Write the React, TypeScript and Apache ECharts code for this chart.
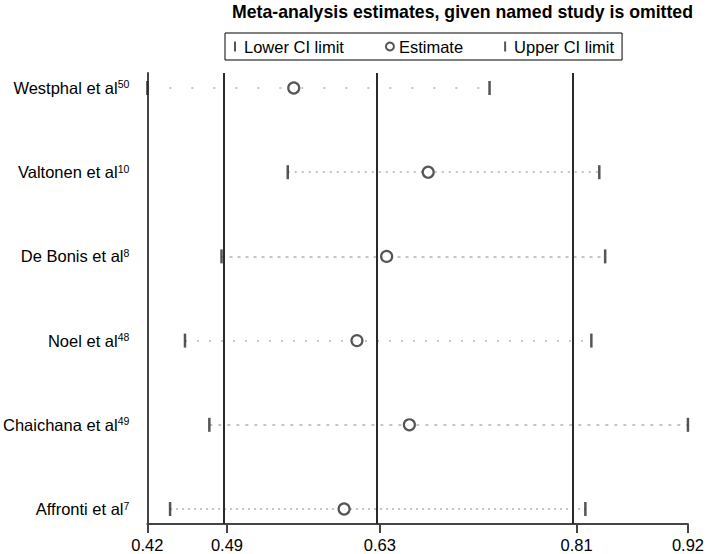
import React, { useEffect, useRef } from "react";
import * as echarts from "echarts";

// ---- data ----
const studies = ["Westphal et al", "Valtonen et al", "De Bonis et al", "Noel et al", "Chaichana et al", "Affronti et al"];
const studyRefs = ["50", "10", "8", "48", "49", "7"];
const lowerCI = [0.4193, 0.5484, 0.4875, 0.4539, 0.4763, 0.4402];
const estimate = [0.5539, 0.6775, 0.6393, 0.612, 0.6602, 0.6002];
const upperCI = [0.7339, 0.8348, 0.8402, 0.8275, 0.9163, 0.822];
// overall (all studies) lower CI, estimate, upper CI
const overall = [0.4925, 0.633, 0.8139];

// ---- styles (not data) ----
const rowDash = [[2, 20], [2, 5], [3, 5], [2, 10], [3, 6], [2, 4]];
const FONT = "'Liberation Sans', Arial, Helvetica, sans-serif";
const DARK = "#2a2a2a";

export default function App() {
  const ref = useRef<HTMLDivElement>(null);
  useEffect(() => {
    if (!ref.current) return;
    const chart = echarts.init(ref.current, null, { renderer: "svg" });
    const xMin = Math.min(...lowerCI);
    const xMax = Math.max(...upperCI);
    const xTicks = [xMin, ...overall, xMax];
    const rows = studies.map((_, i) => i);
    const tickIcon = "path://M0,0h2v10h-2z";

    chart.setOption({
      animation: false,
      textStyle: { fontFamily: FONT },
      title: {
        text: "Meta-analysis estimates, given named study is omitted",
        left: 227,
        top: -2,
        textStyle: { fontSize: 17.7, fontWeight: "bold", color: "#000", fontFamily: FONT },
      },
      legend: {
        left: 225,
        top: 33,
        borderColor: "#000",
        borderWidth: 1,
        borderRadius: 0,
        padding: [5, 8, 5, 9],
        itemGap: 41,
        itemWidth: 8,
        itemHeight: 10,
        textStyle: { fontSize: 16.5, color: "#000", fontFamily: FONT },
        data: [
          { name: "Lower CI limit", icon: tickIcon },
          { name: "Estimate", icon: "circle" },
          { name: "Upper CI limit", icon: tickIcon },
        ],
      },
      grid: { left: 145, right: 15.3, top: 73, bottom: 30, containLabel: false },
      xAxis: {
        type: "value",
        min: xMin,
        max: xMax,
        axisLine: { show: true, onZero: false, lineStyle: { color: "#444", width: 2 } },
        axisTick: { show: true, customValues: xTicks, length: 9, lineStyle: { color: "#444", width: 2 } },
        axisLabel: {
          customValues: xTicks,
          formatter: (v: number) => v.toFixed(2),
          fontSize: 16.5,
          color: "#000",
          margin: 12,
          fontFamily: FONT,
          showMinLabel: true,
          showMaxLabel: true,
        },
        splitLine: { show: false },
      },
      yAxis: {
        type: "value",
        inverse: true,
        min: -0.178,
        max: studies.length - 1 + 0.178,
        axisLine: { show: true, onZero: false, lineStyle: { color: "#444", width: 2 } },
        axisTick: { show: false },
        splitLine: { show: false },
        axisLabel: {
          customValues: rows,
          margin: 18,
          formatter: (v: number) => `{n|${studies[v]}}{s|${studyRefs[v]}}`,
          rich: {
            n: { fontSize: 16.5, color: "#000", fontFamily: FONT, lineHeight: 18 },
            s: { fontSize: 10.5, color: "#000", fontFamily: FONT, verticalAlign: "top", lineHeight: 10 },
          },
        },
      },
      series: [
        {
          type: "lines",
          coordinateSystem: "cartesian2d",
          silent: true,
          z: 1,
          data: rows.map((i) => ({
            coords: [
              [lowerCI[i], i],
              [upperCI[i], i],
            ],
            lineStyle: { color: "#666", width: 1.5, type: rowDash[i] },
          })),
        },
        {
          name: "Lower CI limit",
          type: "scatter",
          z: 3,
          symbol: "rect",
          symbolSize: [2.5, 14],
          itemStyle: { color: DARK },
          data: rows.map((i) => [lowerCI[i], i]),
        },
        {
          name: "Estimate",
          type: "scatter",
          z: 4,
          symbol: "circle",
          symbolSize: 11,
          itemStyle: { color: "#fff", borderColor: DARK, borderWidth: 2.2 },
          data: rows.map((i) => [estimate[i], i]),
          markLine: {
            silent: true,
            symbol: ["none", "none"],
            label: { show: false },
            lineStyle: { color: DARK, width: 2, type: "solid" },
            data: overall.map((v) => ({ xAxis: v })),
          },
        },
        {
          name: "Upper CI limit",
          type: "scatter",
          z: 3,
          symbol: "rect",
          symbolSize: [2.5, 14],
          itemStyle: { color: DARK },
          data: rows.map((i) => [upperCI[i], i]),
        },
      ],
    });
    return () => chart.dispose();
  }, []);
  return <div ref={ref} style={{ width: 707, height: 554, position: "absolute", left: 0, top: 0 }} />;
}
